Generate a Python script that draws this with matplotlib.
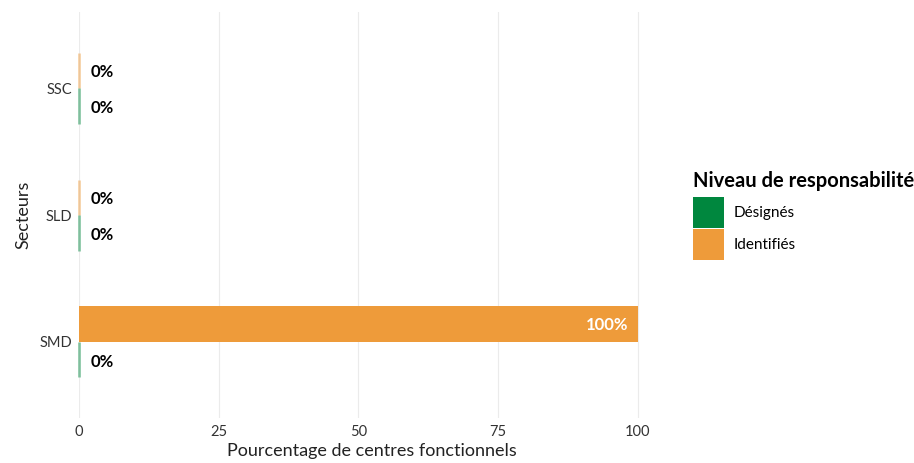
import matplotlib.pyplot as plt
from matplotlib.patches import Patch

sectors = ['SMD', 'SLD', 'SSC']
designes = [0, 0, 0]
identifies = [100, 0, 0]
xticks = [0, 25, 50, 75, 100]

green = '#00873E'
orange = '#EE9B3A'

plt.rcParams['font.family'] = ['Lato', 'DejaVu Sans']

fig = plt.figure(figsize=(9.14, 4.63), dpi=100)
ax = fig.add_axes([0.0864, 0.097, 0.642, 0.877])

h = 0.28
ypos = list(range(len(sectors)))
for i, (d, idf) in enumerate(zip(designes, identifies)):
    # identified bar sits above, designated below
    for val, off, col in [(idf, 0.14, orange), (d, -0.14, green)]:
        if val > 0:
            ax.barh(i + off, val, height=h, color=col, zorder=2)
            ax.text(val - 1.7, i + off - 0.01, '%d%%' % val, ha='right', va='center',
                    color='white', fontsize=12, fontweight='bold', zorder=3)
        else:
            ax.plot([0, 0], [i + off - h / 2, i + off + h / 2], color=col,
                    alpha=0.45, lw=2, solid_capstyle='butt', zorder=3, clip_on=False)
            ax.text(2, i + off - 0.015, '%d%%' % val, ha='left', va='center',
                    color='black', fontsize=12, fontweight='bold', zorder=3)

ax.set_xlim(0, 105)
ax.set_ylim(-0.6, len(sectors) - 0.4)
ax.set_yticks(ypos)
ax.set_yticklabels(sectors)
ax.set_xticks(xticks)
ax.set_xticklabels([str(t) for t in xticks])
ax.grid(axis='x', color='#EBEBEB', lw=0.8, zorder=0)
ax.grid(axis='y', visible=False)
for s in ax.spines.values():
    s.set_visible(False)
ax.tick_params(length=0, labelsize=10.5, colors='#333333', pad=5)
ax.set_xlabel('Pourcentage de centres fonctionnels', fontsize=13, color='#222222', labelpad=3)
ax.set_ylabel('Secteurs', fontsize=13, color='#222222', labelpad=6)

handles = [Patch(facecolor=green, edgecolor='none', label='Désignés'),
           Patch(facecolor=orange, edgecolor='none', label='Identifiés')]
leg = fig.legend(handles=handles, title='Niveau de responsabilité', loc='upper left',
                 bbox_to_anchor=(0.758, 0.63), frameon=False, fontsize=11,
                 handlelength=2.03, handleheight=2.74, labelspacing=0.05,
                 handletextpad=0.65, borderaxespad=0, borderpad=0)
leg.get_title().set_fontweight('bold')
leg.get_title().set_fontsize(14.5)
leg._legend_box.align = 'left'
leg._legend_box.sep = 4

fig.savefig('out.png', dpi=100)
